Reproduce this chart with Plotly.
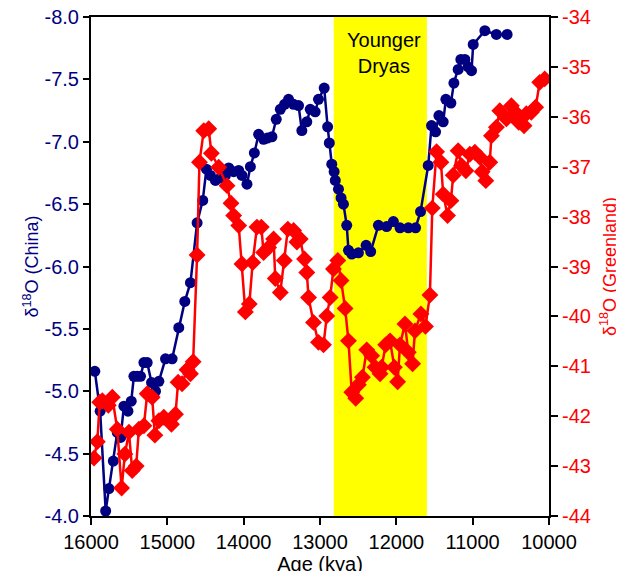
import plotly.graph_objects as go

# ---------------- data ----------------
china_age = [15950, 15880, 15808, 15765, 15708, 15656, 15612, 15569, 15516, 15473,
             15438, 15395, 15351, 15307, 15264, 15207, 15155, 15111, 15024, 14937,
             14850, 14771, 14697, 14610, 14536, 14488, 14435, 14370, 14305, 14239,
             14196, 14131, 14065, 14022, 13957, 13912, 13860, 13804, 13739, 13690,
             13630, 13573, 13520, 13464, 13412, 13346, 13281, 13238, 13173, 13128,
             13063, 13020, 12945, 12900, 12878, 12846, 12815, 12800, 12758, 12724,
             12693, 12650, 12627, 12584, 12497, 12396, 12336, 12235, 12127, 12039,
             11952, 11843, 11748, 11683, 11582, 11539, 11486, 11442, 11386, 11351,
             11285, 11246, 11190, 11155, 11102, 11059, 11015, 10993, 10840, 10689,
             10549]
china_d18o = [-5.16, -4.84, -4.04, -4.22, -4.44, -4.67, -4.63, -4.88, -4.84, -4.92,
              -5.12, -5.12, -5.12, -5.23, -5.23, -5.07, -5.00, -5.08, -5.26, -5.26,
              -5.51, -5.72, -5.87, -6.35, -6.53, -6.78, -6.73, -6.69, -6.71, -6.73,
              -6.79, -6.76, -6.77, -6.73, -6.66, -6.80, -6.91, -7.06, -7.02, -7.03,
              -7.04, -7.18, -7.26, -7.30, -7.34, -7.30, -7.29, -7.09, -7.16, -7.26,
              -7.24, -7.34, -7.43, -7.12, -6.99, -6.82, -6.76, -6.69, -6.62, -6.55,
              -6.50, -6.33, -6.13, -6.10, -6.11, -6.17, -6.12, -6.33, -6.32, -6.36,
              -6.31, -6.31, -6.31, -6.44, -6.81, -7.13, -7.08, -7.21, -7.16, -7.34,
              -7.31, -7.47, -7.58, -7.66, -7.66, -7.60, -7.57, -7.78, -7.89, -7.86,
              -7.86]

greenland_age = [15961, 15917, 15886, 15852, 15773, 15721, 15656, 15599, 15556, 15503,
                 15460, 15408, 15373, 15307, 15264, 15199, 15163, 15111, 15046, 14946,
                 14893, 14859, 14807, 14741, 14697, 14662, 14610, 14579, 14523, 14458,
                 14423, 14327, 14218, 14166, 14131, 14065, 14022, 13978, 13926, 13882,
                 13826, 13769, 13739, 13673, 13608, 13586, 13520, 13468, 13421, 13346,
                 13303, 13259, 13203, 13173, 13150, 13085, 13020, 12954, 12911, 12867,
                 12824, 12767, 12724, 12671, 12627, 12584, 12532, 12497, 12444, 12388,
                 12323, 12278, 12213, 12192, 12140, 12082, 12026, 11983, 11952, 11887,
                 11843, 11787, 11756, 11678, 11618, 11560, 11529, 11473, 11416, 11386,
                 11329, 11285, 11255, 11190, 11146, 11089, 11037, 10971, 10906, 10876,
                 10828, 10776, 10754, 10689, 10645, 10558, 10493, 10441, 10397, 10327,
                 10297, 10232, 10175, 10122, 10057]
greenland_d18o = [-42.84, -42.51, -41.72, -41.69, -41.78, -41.62, -42.26, -43.44, -42.76, -42.32,
                  -43.09, -43.00, -42.26, -42.19, -41.55, -41.62, -42.38, -42.09, -42.02, -42.16,
                  -41.96, -41.32, -41.35, -41.07, -41.15, -40.91, -38.77, -36.91, -36.28, -36.24,
                  -36.73, -37.01, -37.38, -37.73, -37.98, -38.18, -38.95, -39.91, -39.75, -38.92,
                  -38.21, -38.21, -38.72, -38.62, -38.45, -39.24, -39.52, -38.88, -38.25, -38.28,
                  -38.51, -38.45, -38.85, -39.12, -39.62, -40.12, -40.52, -40.57, -39.99, -39.62,
                  -39.05, -38.88, -39.28, -39.84, -40.49, -41.52, -41.64, -41.37, -41.22, -40.67,
                  -40.79, -41.02, -41.15, -41.02, -40.57, -40.49, -41.02, -41.31, -40.57, -40.15,
                  -40.72, -40.95, -40.29, -39.95, -40.20, -39.57, -37.83, -36.70, -36.91, -37.55,
                  -37.98, -37.68, -37.17, -36.68, -36.98, -37.08, -36.75, -36.71, -36.81, -37.10,
                  -37.28, -36.91, -36.38, -36.21, -35.88, -36.04, -35.78, -35.91, -36.11, -36.18,
                  -35.94, -35.91, -35.81, -35.31, -35.24]

younger_dryas = [12820, 11600]

x_ticks = [16000, 15000, 14000, 13000, 12000, 11000, 10000]
x_tick_text = ["16000", "15000", "14000", "13000", "12000", "11000", "10000"]
china_ticks = [-8.0, -7.5, -7.0, -6.5, -6.0, -5.5, -5.0, -4.5, -4.0]
china_tick_text = ["-8.0", "-7.5", "-7.0", "-6.5", "-6.0", "-5.5", "-5.0", "-4.5", "-4.0"]
gl_ticks = [-34, -35, -36, -37, -38, -39, -40, -41, -42, -43, -44]
gl_tick_text = ["-34", "-35", "-36", "-37", "-38", "-39", "-40", "-41", "-42", "-43", "-44"]

NAVY = "#000080"
RED = "#FF0000"
FONT = "Arial, Liberation Sans, sans-serif"

fig = go.Figure()

fig.add_trace(go.Scatter(
    x=china_age, y=china_d18o, mode="lines+markers", name="China",
    line=dict(color=NAVY, width=2.5),
    marker=dict(symbol="circle", size=11, color=NAVY),
    yaxis="y"))

fig.add_trace(go.Scatter(
    x=greenland_age, y=greenland_d18o, mode="lines+markers", name="Greenland",
    line=dict(color=RED, width=2.5),
    marker=dict(symbol="diamond", size=13, color=RED),
    yaxis="y2"))

fig.add_shape(type="rect", xref="x", yref="paper",
              x0=younger_dryas[0], x1=younger_dryas[1], y0=0, y1=1,
              fillcolor="#FFFF00", line=dict(width=0), layer="below")

fig.add_annotation(x=(younger_dryas[0] + younger_dryas[1]) / 2, xref="x",
                   y=-7.71, yref="y", text="Younger<br>Dryas", showarrow=False,
                   xshift=4, font=dict(family=FONT, size=20, color="black"))

# title at the very top, mostly above the visible page as in the reference
fig.add_annotation(x=-0.096, xref="paper", xanchor="left",
                   y=1.0, yref="paper", yanchor="bottom", yshift=9,
                   text="Climate shifts at the Younger Dryas event",
                   showarrow=False,
                   font=dict(family=FONT, size=20, color="black"))

AX = dict(showgrid=False, zeroline=False, showline=True, linecolor="black",
          linewidth=2, ticks="outside", tickwidth=2, tickcolor="black",
          automargin=False, ticklabeloverflow="allow")

fig.update_layout(
    width=624, height=571,
    margin=dict(l=83, r=82.5, t=9, b=63, autoexpand=False),
    paper_bgcolor="white", plot_bgcolor="white",
    showlegend=False,
    font=dict(family=FONT, size=20, color="black"),
    xaxis=dict(
        range=[16000, 10000], tickvals=x_ticks, ticktext=x_tick_text,
        mirror=True, ticklen=7,
        tickfont=dict(family=FONT, size=20, color="black"),
        title=dict(text="Age (kya)", font=dict(family=FONT, size=20, color="black"),
                   standoff=4), **AX),
    yaxis=dict(
        range=[-4.0, -8.0], tickvals=china_ticks, ticktext=china_tick_text,
        ticklen=6,
        tickfont=dict(family=FONT, size=20, color=NAVY),
        title=dict(text="δ<sup>18</sup>O (China)", font=dict(family=FONT, size=18, color=NAVY),
                   standoff=1), **AX),
    yaxis2=dict(
        range=[-44, -34], tickvals=gl_ticks, ticktext=gl_tick_text,
        overlaying="y", side="right", ticklen=7,
        tickfont=dict(family=FONT, size=20, color=RED),
        title=dict(text="δ<sup>18</sup>O (Greenland)", font=dict(family=FONT, size=18, color=RED),
                   standoff=13), **AX),
)

fig.write_html("out.html")
